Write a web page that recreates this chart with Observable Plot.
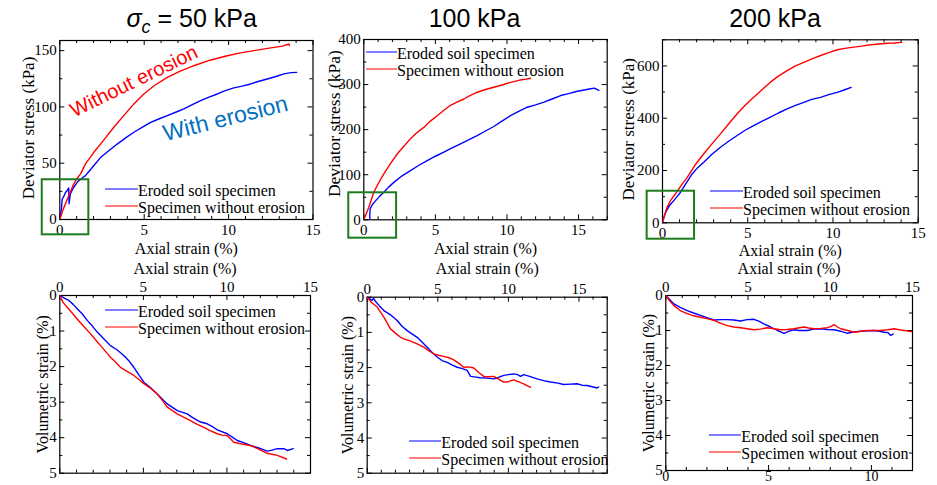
<!DOCTYPE html>
<html><head><meta charset="utf-8">
<script src="https://cdn.jsdelivr.net/npm/d3@7"></script>
<script src="https://cdn.jsdelivr.net/npm/@observablehq/plot@0.6"></script>
<style>
body{margin:0;background:#fff;}
#chart{position:relative;width:937px;height:485px;overflow:hidden;background:#fff;}
#chart svg{position:absolute;left:0;top:0;}
.title{position:absolute;top:5.5px;transform:translateX(-50%);font:25px/25px "Liberation Sans",Arial,sans-serif;white-space:nowrap;color:#000;}
.title sub{font-size:18px;line-height:0;vertical-align:-6px;}
.leg{position:absolute;font:16px/17px "Liberation Serif","Times New Roman",serif;white-space:nowrap;color:#000;}
.leg .row{display:flex;align-items:center;height:17px;}
.leg .ln{display:inline-block;height:0;border-top:1.4px solid;transform:translateY(-1.5px);}
</style></head><body><div id="chart"></div>
<script>
// ---------- texts ----------
const strainLabel = "Axial strain (%)";
const stressLabel = "Deviator stress (kPa)";
const volLabel = "Volumetric strain (%)";
const titleTexts = ["= 50 kPa", "100 kPa", "200 kPa"];
const seriesNames = ["Eroded soil specimen", "Specimen without erosion"];
const annotationTexts = ["Without erosion", "With erosion"];

// ---------- tick labels ----------
const strainTicks = [0, 5, 10, 15];
const stressTicks50 = [0, 50, 100, 150];
const stressTicks100 = [0, 100, 200, 300, 400];
const stressTicks200 = [0, 200, 400, 600];
const volTicks = [0, 1, 2, 3, 4, 5];
const strainTicks200Bottom = [0, 5, 10];
const strainTicks200Top = [0, 5, 10, 15];

// ---------- deviator stress vs axial strain ----------
const q50Eroded = [[0,0],[0.1,10],[0.14,18],[0.25,21],[0.34,24],[0.45,26],[0.53,28],[0.55,14],[0.6,20],[0.63,23],[0.8,28],[1.03,33],[1.25,36],[1.52,39],[1.8,44],[2.02,47.9],[2.41,55],[2.9,61],[3.4,67],[3.9,72.5],[4.39,77.5],[4.9,82],[5.38,86.3],[5.9,89.5],[6.37,92.3],[6.9,95.5],[7.35,98.2],[7.85,102],[8.34,105.6],[8.8,108.5],[9.33,111.5],[9.8,114.5],[10.31,116.9],[10.8,118.5],[11.3,120.4],[11.8,122.8],[12.29,124.8],[12.8,127],[13.28,129.3],[13.7,130.5],[14.03,130.7]];
const q50Intact = [[0,0],[0.2,9],[0.53,21],[0.83,31.7],[1.0,36],[1.23,40.5],[1.52,49.4],[2.02,59.7],[2.6,70.5],[3.2,81.9],[3.8,92.5],[4.39,102.7],[4.98,111.5],[5.6,119],[6.37,126.3],[7.1,131.5],[7.94,136.6],[8.9,141.5],[9.92,145.5],[10.7,148],[11.5,150],[12.5,152.5],[13.2,154],[13.57,155.9],[13.6,154.5]];
const q100Eroded = [[0.42,0],[0.42,10],[0.44,24],[0.6,34],[0.82,42],[1.1,52],[1.4,61],[1.75,73],[2.1,83],[2.65,97],[3.26,109],[3.85,121],[4.43,131.5],[5.0,141],[5.59,150],[6.2,160],[6.76,168.6],[7.35,178],[7.92,187],[8.5,197],[9.08,207],[9.65,219],[10.25,231],[10.85,241],[11.42,249.8],[12.0,255],[12.58,261],[13.15,268],[13.75,275.7],[14.3,280],[14.91,285.3],[15.4,288],[15.84,290.6],[16.1,292],[16.42,287]];
const q100Intact = [[0,0],[0.15,12],[0.35,28],[0.7,61],[1.0,80],[1.4,102],[1.85,124],[2.33,146],[2.8,163],[3.26,180],[3.7,193],[4.19,205],[4.65,219],[5.13,231],[5.6,243],[6.06,254],[6.5,261],[6.99,268],[7.45,276],[7.92,283],[8.5,289],[9.08,294],[9.65,299],[10.25,305],[10.9,310],[11.35,312],[11.65,314]];
const q200Eroded = [[0,0],[0.08,20],[0.18,40],[0.4,65],[0.66,85],[0.85,100],[1.06,117],[1.4,153],[1.74,187],[2.05,210],[2.42,232],[2.9,262],[3.4,289],[3.9,313],[4.38,334],[4.85,354],[5.35,372],[5.85,389],[6.33,404],[6.8,420],[7.31,436],[7.8,449],[8.29,461],[8.75,472],[9.27,480],[9.75,490],[10.25,499],[10.65,508],[11.07,518]];
const q200Intact = [[0,0],[0.1,25],[0.27,60],[0.5,88],[0.76,111],[1.1,143],[1.45,174],[1.9,220],[2.42,264],[2.9,302],[3.4,340],[3.9,380],[4.38,417],[4.85,450],[5.35,480],[5.85,510],[6.33,538],[6.8,561],[7.31,582],[7.8,600],[8.29,614],[8.8,628],[9.27,640],[9.75,651],[10.25,662],[10.7,667],[11.22,672],[11.7,676],[12.2,681],[12.7,684],[13.18,687],[13.6,688],[14.02,690]];

// ---------- volumetric strain vs axial strain ----------
const ev50Eroded = [[0,0],[0.3,0.08],[0.54,0.14],[0.8,0.25],[1.04,0.37],[1.35,0.52],[1.64,0.7],[1.95,0.86],[2.24,1.03],[2.6,1.2],[3.03,1.41],[3.4,1.52],[3.83,1.69],[4.1,1.82],[4.43,2.02],[4.75,2.25],[5.03,2.44],[5.4,2.58],[5.83,2.77],[6.1,2.9],[6.43,3.05],[7.03,3.24],[7.62,3.33],[8.0,3.45],[8.42,3.56],[8.82,3.61],[9.1,3.68],[9.42,3.78],[10.02,3.89],[10.3,3.98],[10.62,4.08],[11.0,4.14],[11.41,4.22],[11.9,4.29],[12.41,4.38],[12.7,4.35],[13.01,4.31],[13.41,4.31],[13.61,4.36],[13.97,4.31]];
const ev50Intact = [[0,0],[0.2,0.2],[0.44,0.33],[0.75,0.5],[1.04,0.66],[1.45,0.88],[1.84,1.08],[2.15,1.25],[2.44,1.41],[2.75,1.58],[3.03,1.74],[3.3,1.86],[3.63,2.02],[4.0,2.13],[4.43,2.25],[4.75,2.37],[5.03,2.48],[5.4,2.6],[5.83,2.77],[6.1,2.93],[6.43,3.14],[7.03,3.33],[7.4,3.42],[7.82,3.52],[8.2,3.62],[8.62,3.71],[9.0,3.8],[9.42,3.89],[9.7,3.93],[10.02,3.94],[10.41,4.13],[10.9,4.18],[11.41,4.22],[11.9,4.32],[12.41,4.44],[13.01,4.5],[13.57,4.6]];
const ev100Eroded = [[0,0],[0.2,0.05],[0.35,0.09],[0.45,0.03],[0.55,0.1],[0.85,0.24],[1.18,0.38],[1.65,0.5],[2.12,0.66],[2.45,0.82],[2.83,0.95],[3.2,1.05],[3.54,1.14],[3.9,1.28],[4.25,1.42],[4.6,1.57],[4.96,1.7],[5.3,1.8],[5.67,1.85],[6.0,1.92],[6.37,1.99],[6.75,2.03],[7.08,2.08],[7.32,2.25],[7.7,2.27],[8.02,2.29],[8.5,2.3],[8.97,2.32],[9.3,2.28],[9.67,2.22],[10.0,2.2],[10.38,2.18],[10.65,2.2],[10.86,2.25],[11.09,2.2],[11.5,2.25],[12.04,2.32],[12.5,2.37],[12.98,2.41],[13.5,2.44],[13.92,2.48],[14.4,2.47],[14.87,2.46],[15.2,2.5],[15.58,2.51],[16.0,2.55],[16.29,2.58],[16.4,2.55]];
const ev100Intact = [[0,0],[0.3,0.15],[0.71,0.28],[1.2,0.58],[1.65,0.9],[2.0,1.02],[2.36,1.14],[2.7,1.2],[3.07,1.25],[3.5,1.32],[4.01,1.42],[4.35,1.52],[4.72,1.61],[5.05,1.65],[5.42,1.68],[5.8,1.72],[6.13,1.78],[6.5,1.88],[6.84,1.99],[7.2,1.98],[7.55,2.01],[7.9,2.14],[8.26,2.25],[8.6,2.26],[8.97,2.25],[9.3,2.33],[9.67,2.41],[10.0,2.4],[10.38,2.35],[10.7,2.4],[11.09,2.46],[11.35,2.52],[11.57,2.56]];
const ev200Eroded = [[0,0],[0.2,0.12],[0.39,0.24],[0.7,0.34],[1.04,0.43],[1.35,0.5],[1.69,0.57],[2.0,0.63],[2.34,0.7],[2.65,0.69],[2.99,0.69],[3.3,0.7],[3.64,0.73],[3.95,0.69],[4.29,0.68],[4.55,0.74],[4.77,0.81],[5.1,0.9],[5.43,1.0],[5.75,1.08],[6.0,1.02],[6.23,0.98],[6.5,1.0],[6.89,1.0],[7.2,0.96],[7.54,0.95],[7.85,0.97],[8.19,0.98],[8.5,1.02],[8.84,1.08],[9.15,1.04],[9.48,1.02],[9.8,1.01],[10.13,1.0],[10.4,1.02],[10.62,1.05],[10.8,1.06],[10.94,1.14],[11.07,1.1]];
const ev200Intact = [[0,0],[0.2,0.16],[0.39,0.29],[0.7,0.43],[1.04,0.52],[1.35,0.58],[1.69,0.62],[2.0,0.66],[2.34,0.71],[2.65,0.79],[2.99,0.86],[3.3,0.9],[3.64,0.92],[3.95,0.95],[4.29,0.98],[4.6,0.96],[4.94,0.92],[5.25,0.95],[5.59,0.98],[5.9,0.97],[6.23,0.95],[6.5,0.92],[6.72,0.9],[6.95,0.93],[7.21,0.95],[7.55,0.94],[7.86,0.92],[8.05,0.88],[8.18,0.83],[8.35,0.9],[8.51,0.95],[8.85,1.0],[9.16,1.05],[9.5,1.02],[9.81,1.0],[10.15,1.0],[10.46,1.0],[10.8,0.98],[11.1,0.95],[11.35,0.98],[11.59,1.0],[12.0,1.03],[12.5,1.02]];

// ---------- highlighted initial region (data units) ----------
const zoomBox50 = [{x1: -1.04, x2: 1.72, y1: -13.6, y2: 35.3}];
const zoomBox100 = [{x1: -1.05, x2: 2.29, y1: -40.8, y2: 59.9}];
const zoomBox200 = [{x1: -0.9, x2: 1.88, y1: -62.7, y2: 120.8}];
// annotation anchors (data units) for the 50 kPa panel
const annotationX = [4.39, 9.81];
const annotationY = [122.8, 89.6];

// ---------- styles ----------
const BLUE = "#0000ff", RED = "#ff0000", GREEN = "#1e7b1e";
const SERIF = '"Liberation Serif","Times New Roman",serif';
const SANS = '"Liberation Sans",Arial,sans-serif';
const W = 937, H = 485;

function steps(a, b, s) { const r = []; for (let v = a; v <= b + 1e-9; v += s) r.push(+v.toFixed(6)); return r; }

function panel(p) {
  const innerW = p.R - p.L, innerH = p.B - p.T;
  const marks = [Plot.frame({stroke: "#000", strokeWidth: 1.2})];
  const xMinor = steps(p.x[0], p.x[1], 1);
  const xMaj = xMinor.filter(v => Math.abs(v % 5) < 1e-9);
  const xMin = xMinor.filter(v => Math.abs(v % 5) >= 1e-9);
  const yAll = steps(p.y[0], p.y[1], p.yMinorStep);
  const yMaj = yAll.filter(v => p.yMajor.includes(v));
  const yMin = yAll.filter(v => !p.yMajor.includes(v));
  const topVals = p.topAxis ? steps(0, p.topAxis.max, 1) : xMinor;
  const topMaj = topVals.filter(v => Math.abs(v % 5) < 1e-9);
  const topMin = topVals.filter(v => Math.abs(v % 5) >= 1e-9);
  const tpos = p.topAxis ? p.topAxis.pos : (d => d);
  marks.push(
    Plot.ruleX(xMaj, {x: d => d, insetTop: innerH - 5, stroke: "#000"}),
    Plot.ruleX(xMin, {x: d => d, insetTop: innerH - 3, stroke: "#000"}),
    Plot.ruleX(topMaj, {x: d => tpos(d), insetBottom: innerH - 5, stroke: "#000"}),
    Plot.ruleX(topMin, {x: d => tpos(d), insetBottom: innerH - 3, stroke: "#000"}),
    Plot.ruleY(yMaj, {y: d => d, insetRight: innerW - 5, stroke: "#000"}),
    Plot.ruleY(yMin, {y: d => d, insetRight: innerW - 3, stroke: "#000"}),
    Plot.ruleY(yMaj, {y: d => d, insetLeft: innerW - 5, stroke: "#000"}),
    Plot.ruleY(yMin, {y: d => d, insetLeft: innerW - 3, stroke: "#000"})
  );
  marks.push(Plot.axisY({anchor: "left", ticks: p.yMajor, tickSize: 0, tickPadding: 3, label: null, fontSize: 15, tickFormat: d => String(d)}));
  if (p.bottomTicks) marks.push(Plot.axisX({anchor: "bottom", ticks: p.bottomTicks, tickSize: 0, tickPadding: p.bottomPad ?? 5, label: null,
    fontSize: p.bottomSize || 15, tickFormat: d => String(d)}));
  if (p.topTicks) marks.push(Plot.axisX({anchor: "top", ticks: p.topTicks.map(tpos), tickSize: 0, tickPadding: 3.5, label: null, fontSize: 15,
    tickFormat: d => String(Math.round(p.topAxis ? p.topAxis.inv(d) : d))}));
  marks.push(Plot.text([p.yLabel], {text: d => d, frameAnchor: "left", rotate: -90, lineAnchor: "top", textAnchor: "middle",
    dx: -p.yLabelOff, dy: p.yLabelShift || 0, fontSize: p.yLabelSize || 16}));
  if (p.xLabelBottomOff != null) marks.push(Plot.text([strainLabel], {text: d => d, frameAnchor: "bottom", lineAnchor: "bottom", textAnchor: "middle", dy: p.xLabelBottomOff, fontSize: 16}));
  if (p.xLabelTopOff != null) marks.push(Plot.text([strainLabel], {text: d => d, frameAnchor: "top", lineAnchor: "top", textAnchor: "middle", dy: -p.xLabelTopOff, fontSize: 16}));
  marks.push(
    Plot.line(p.eroded, {x: d => d[0], y: d => d[1], stroke: BLUE, strokeWidth: 1.4, clip: true}),
    Plot.line(p.intact, {x: d => d[0], y: d => d[1], stroke: RED, strokeWidth: 1.4, clip: true})
  );
  if (p.box) marks.push(Plot.rect(p.box, {x1: "x1", x2: "x2", y1: "y1", y2: "y2", fill: "none", stroke: GREEN, strokeWidth: 2}));
  if (p.extra) marks.push(...p.extra);
  const svg = Plot.plot({
    width: W, height: H,
    marginLeft: p.L, marginRight: W - p.R, marginTop: p.T, marginBottom: H - p.B,
    x: {domain: p.x}, y: {domain: p.y, reverse: !!p.reverse},
    style: {fontFamily: SERIF, fontSize: "15px", background: "transparent", overflow: "visible", color: "#000"},
    marks
  });
  svg.style.position = "absolute"; svg.style.left = "0px"; svg.style.top = "0px";
  return svg;
}

const chart = document.getElementById("chart");

const annotStyles = [{fill: RED, fontSize: 20, rotate: -26}, {fill: "#0070c0", fontSize: 23, rotate: -14}];
const annotMarks = annotationTexts.map((t, i) => Plot.text([i], {
  x: j => annotationX[j], y: j => annotationY[j], text: j => annotationTexts[j],
  fill: annotStyles[i].fill, fontSize: annotStyles[i].fontSize, rotate: annotStyles[i].rotate, fontFamily: SANS
}));

const top200 = d3.scaleLinear().domain([0, 15]).range([0, 12]);

const panels = [
  {L: 59.3, R: 312.5, T: 40, B: 219, x: [0, 15], y: [0, 159], yMajor: stressTicks50, yMinorStep: 25, bottomTicks: strainTicks,
   yLabel: stressLabel, yLabelOff: 37.6, yLabelSize: 17, yLabelShift: -2, xLabelBottomOff: 34.5, eroded: q50Eroded, intact: q50Intact, box: zoomBox50, extra: annotMarks},
  {L: 363.3, R: 606.7, T: 39, B: 219.3, x: [0, 17], y: [0, 400], yMajor: stressTicks100, yMinorStep: 50, bottomTicks: strainTicks,
   yLabel: stressLabel, yLabelOff: 36.6, yLabelSize: 17.5, yLabelShift: -6, xLabelBottomOff: 33.7, eroded: q100Eroded, intact: q100Intact, box: zoomBox100},
  {L: 662, R: 917.7, T: 39.3, B: 222.3, x: [0, 15], y: [0, 700], yMajor: stressTicks200, yMinorStep: 100, bottomTicks: strainTicks,
   yLabel: stressLabel, yLabelOff: 40.3, yLabelSize: 17, yLabelShift: -2, xLabelBottomOff: 33.2, eroded: q200Eroded, intact: q200Intact, box: zoomBox200},
  {L: 59.3, R: 310, T: 295, B: 472.7, x: [0, 15], y: [0, 5], reverse: true, yMajor: volTicks, yMinorStep: 0.5, topTicks: strainTicks,
   yLabel: volLabel, yLabelOff: 23.3, xLabelTopOff: 32.7, eroded: ev50Eroded, intact: ev50Intact},
  {L: 366.7, R: 606.7, T: 296.7, B: 472.7, x: [0, 17], y: [0, 5], reverse: true, yMajor: volTicks, yMinorStep: 0.5, topTicks: strainTicks,
   yLabel: volLabel, yLabelOff: 25.7, xLabelTopOff: 35, eroded: ev100Eroded, intact: ev100Intact},
  {L: 665.3, R: 912, T: 295, B: 470, x: [0, 12], y: [0, 5], reverse: true, yMajor: volTicks, yMinorStep: 0.5,
   bottomTicks: strainTicks200Bottom, bottomPad: 1, bottomSize: 14, topTicks: strainTicks200Top, topAxis: {max: 15, pos: top200, inv: v => top200.invert(v)},
   yLabel: volLabel, yLabelOff: 23.6, xLabelTopOff: 32.7, eroded: ev200Eroded, intact: ev200Intact}
];
panels.forEach(p => chart.appendChild(panel(p)));

const titlePos = [191.7, 474.5, 775];
titleTexts.forEach((t, i) => {
  const d = document.createElement("div");
  d.className = "title";
  d.style.left = titlePos[i] + "px";
  if (i === 0) {
    const s = document.createElement("i"); s.textContent = "σ";
    const sub = document.createElement("sub"); sub.textContent = "c"; sub.style.fontStyle = "italic";
    d.appendChild(s); d.appendChild(sub); d.appendChild(document.createTextNode(" " + t));
  } else d.textContent = t;
  chart.appendChild(d);
});

const legendLayout = [
  {left: 105, top: 181.5, w: 33}, {left: 366, top: 45.1, w: 31}, {left: 710, top: 184.4, w: 33},
  {left: 105, top: 302.8, w: 33}, {left: 409.3, top: 434.4, w: 32}, {left: 709.3, top: 427.8, w: 32}
];
const seriesColors = [BLUE, RED];
legendLayout.forEach(l => {
  const box = document.createElement("div");
  box.className = "leg"; box.style.left = l.left + "px"; box.style.top = l.top + "px";
  seriesNames.forEach((n, i) => {
    const row = document.createElement("div"); row.className = "row";
    const ln = document.createElement("span"); ln.className = "ln";
    ln.style.width = l.w + "px"; ln.style.borderTopColor = seriesColors[i];
    const tx = document.createElement("span"); tx.textContent = n;
    row.appendChild(ln); row.appendChild(tx); box.appendChild(row);
  });
  chart.appendChild(box);
});
</script></body></html>
